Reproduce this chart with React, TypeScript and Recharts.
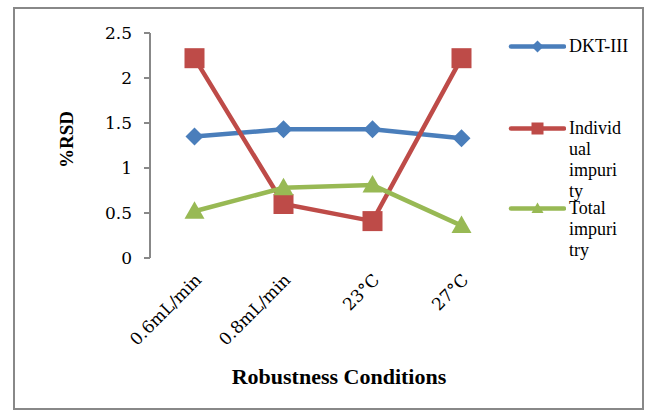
import { LineChart, Line, XAxis, YAxis } from "recharts"

// Robustness study: %RSD under each changed condition
const conditions = ["0.6mL/min", "0.8mL/min", "23°C", "27°C"]
const dktIII = [1.35, 1.43, 1.43, 1.33]
const individualImpurity = [2.22, 0.6, 0.41, 2.22]
const totalImpurity = [0.52, 0.78, 0.81, 0.36]

const yTicks = [0, 0.5, 1, 1.5, 2, 2.5]
const bandEdges = [-0.5, 0.5, 1.5, 2.5, 3.5]
const bandCenters = [0, 1, 2, 3]

const data = conditions.map((name, i) => ({
  idx: i,
  name,
  dkt: dktIII[i],
  individual: individualImpurity[i],
  total: totalImpurity[i],
}))

const BLUE = "#4a7ebb"
const RED = "#be4b48"
const GREEN = "#98b954"
const AXIS = "#888888"

const Diamond = ({ cx, cy, fill, r = 9 }: any) => (
  <path d={`M${cx} ${cy - r}L${cx + r} ${cy}L${cx} ${cy + r}L${cx - r} ${cy}Z`} fill={fill} />
)
const Square = ({ cx, cy, fill, r = 10 }: any) => (
  <rect x={cx - r} y={cy - r} width={r * 2} height={r * 2} fill={fill} />
)
const Triangle = ({ cx, cy, fill, r = 10 }: any) => (
  <path d={`M${cx} ${cy - r}L${cx + r} ${cy + r * 0.75}L${cx - r} ${cy + r * 0.75}Z`} fill={fill} />
)

const series = [
  { key: "dkt", color: BLUE, Marker: Diamond, lines: ["DKT-III"] },
  { key: "individual", color: RED, Marker: Square, lines: ["Individ", "ual", "impuri", "ty"] },
  { key: "total", color: GREEN, Marker: Triangle, lines: ["Total", "impuri", "try"] },
]
const legendTops = [46, 128, 208]

const XLabelTick = ({ x, y, payload }: any) => {
  const tx = x + 8
  const ty = y + 23
  return (
    <text
      x={tx}
      y={ty}
      transform={`rotate(-45 ${tx} ${ty})`}
      textAnchor="end"
      fontFamily="DejaVu Serif"
      fontSize={17}
      fill="#000"
    >
      {conditions[payload.value]}
    </text>
  )
}

export default function App() {
  return (
    <div style={{ position: "absolute", left: 0, top: 0, width: 649, height: 412, background: "#fff" }}>
      <div
        style={{
          position: "absolute",
          left: 13,
          top: 7,
          width: 631,
          height: 403,
          border: `2px solid ${AXIS}`,
          boxSizing: "border-box",
        }}
      />
      <LineChart
        width={649}
        height={412}
        data={data}
        margin={{ top: 33, right: 143, left: 0, bottom: 0 }}
        style={{ position: "absolute", left: 0, top: 0 }}
      >
        <XAxis
          xAxisId="marks"
          dataKey="idx"
          type="number"
          domain={[-0.5, 3.5]}
          ticks={bandEdges}
          tick={false}
          tickSize={6}
          height={0}
          axisLine={{ stroke: AXIS, strokeWidth: 2 }}
          tickLine={{ stroke: AXIS, strokeWidth: 2 }}
        />
        <XAxis
          xAxisId="labels"
          dataKey="idx"
          type="number"
          domain={[-0.5, 3.5]}
          ticks={bandCenters}
          tick={<XLabelTick />}
          tickSize={0}
          tickMargin={0}
          height={154}
          axisLine={false}
          tickLine={false}
          interval={0}
          label={({ viewBox }: any) => (
            <text
              x={viewBox.x + viewBox.width / 2 + 11}
              y={viewBox.y + 126}
              textAnchor="middle"
              fontFamily="Liberation Serif"
              fontWeight="bold"
              fontSize={22}
              fill="#000"
            >
              Robustness Conditions
            </text>
          )}
        />
        <YAxis
          width={150}
          domain={[0, 2.5]}
          ticks={yTicks}
          tickSize={6}
          tickMargin={12}
          interval={0}
          axisLine={{ stroke: AXIS, strokeWidth: 2 }}
          tickLine={{ stroke: AXIS, strokeWidth: 2 }}
          tick={{ fontFamily: "DejaVu Serif", fontSize: 17, fill: "#000" }}
          label={({ viewBox }: any) => {
            const lx = viewBox.x + 73
            const ly = viewBox.y + viewBox.height / 2 - 6
            return (
              <text
                x={lx}
                y={ly}
                transform={`rotate(-90 ${lx} ${ly})`}
                textAnchor="middle"
                fontFamily="Liberation Serif"
                fontWeight="bold"
                fontSize={19}
                fill="#000"
              >
                %RSD
              </text>
            )
          }}
        />
        {series.map((s) => (
          <Line
            key={s.key}
            xAxisId="marks"
            dataKey={s.key}
            type="linear"
            stroke={s.color}
            strokeWidth={4.5}
            dot={(p: any) => <s.Marker key={p.index} cx={p.cx} cy={p.cy} fill={s.color} />}
            activeDot={false}
            isAnimationActive={false}
          />
        ))}
      </LineChart>
      {series.map((s, i) => (
        <div
          key={s.key}
          style={{ position: "absolute", left: 508, top: legendTops[i] - 10, display: "flex", alignItems: "flex-start" }}
        >
          <svg width={58} height={21}>
            <line x1={3} y1={10.5} x2={56} y2={10.5} stroke={s.color} strokeWidth={4.5} strokeLinecap="round" />
            <s.Marker cx={29.5} cy={10.5} fill={s.color} r={6} />
          </svg>
          <div
            style={{
              marginLeft: 3,
              fontFamily: "Liberation Serif",
              fontSize: 18,
              lineHeight: "21px",
              color: "#000",
            }}
          >
            {s.lines.map((t, j) => (
              <div key={j}>{t}</div>
            ))}
          </div>
        </div>
      ))}
    </div>
  )
}
